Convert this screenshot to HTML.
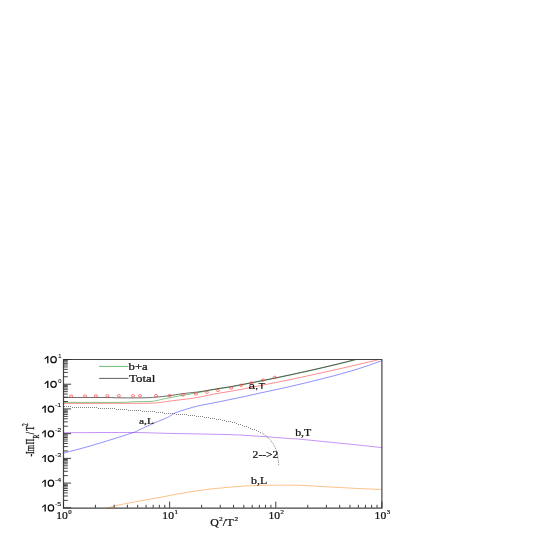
<!DOCTYPE html>
<html><head><meta charset="utf-8"><style>html,body{margin:0;padding:0;background:#fff}body{width:545px;height:545px;position:relative;overflow:hidden;font-family:"Liberation Sans",sans-serif}</style></head><body><svg width="545" height="545" viewBox="0 0 545 545" style="position:absolute;left:0;top:0;will-change:transform">
<defs><clipPath id="cp"><rect x="63.50" y="359.00" width="318.40" height="149.30"/></clipPath>
<g id="ten"><path d="M0.05 -4.6L2.85 -7.1H4.05V0H2.7V-5.5L0.5 -3.7Z" fill="#111"/><ellipse cx="9.15" cy="-3.55" rx="2.72" ry="3.0" fill="none" stroke="#111" stroke-width="1.25"/></g>
</defs>
<g clip-path="url(#cp)" fill="none" stroke-width="0.62">
<path d="M63.50 432.70 C74.75 432.67 113.92 432.40 131.00 432.50 C148.08 432.60 155.17 433.07 166.00 433.30 C176.83 433.53 186.17 433.70 196.00 433.90 C205.83 434.10 216.83 434.27 225.00 434.50 C233.17 434.73 238.23 434.93 245.00 435.30 C251.77 435.67 258.72 436.20 265.60 436.70 C272.48 437.20 280.57 437.88 286.30 438.30 C292.03 438.72 293.38 438.62 300.00 439.20 C306.62 439.78 316.63 440.87 326.00 441.80 C335.37 442.73 346.88 443.83 356.20 444.80 C365.52 445.77 377.62 447.13 381.90 447.60" stroke="#a050f0"/>
<path d="M105.80 508.60 C107.22 508.17 110.68 506.88 114.30 506.00 C117.92 505.12 122.55 504.27 127.50 503.30 C132.45 502.33 138.58 501.18 144.00 500.20 C149.42 499.22 154.58 498.40 160.00 497.40 C165.42 496.40 171.00 495.20 176.50 494.20 C182.00 493.20 187.50 492.23 193.00 491.40 C198.50 490.57 205.00 489.75 209.50 489.20 C214.00 488.65 215.32 488.55 220.00 488.10 C224.68 487.65 231.48 486.95 237.60 486.50 C243.72 486.05 249.85 485.62 256.70 485.40 C263.55 485.18 271.48 485.22 278.70 485.20 C285.92 485.18 293.45 485.12 300.00 485.30 C306.55 485.48 312.00 485.97 318.00 486.30 C324.00 486.63 330.00 486.97 336.00 487.30 C342.00 487.63 348.00 488.00 354.00 488.30 C360.00 488.60 367.35 488.90 372.00 489.10 C376.65 489.30 380.25 489.43 381.90 489.50" stroke="#ff9a3c"/>
<path d="M64 406.5h1M66 406.5h1M68 406.5h1M70 406.5h1M72 407.5h1M74 407.5h1M76 407.5h1M78 407.5h1M80 407.5h1M82 407.5h1M84 407.5h1M86 407.5h1M88 407.5h1M90 407.5h1M92 407.5h1M94 407.5h1M96 407.5h1M98 408.5h1M100 408.5h1M102 408.5h1M104 408.5h1M106 408.5h1M108 408.5h1M110 408.5h1M112 408.5h1M114 408.5h1M116 409.5h1M118 409.5h1M120 409.5h1M122 409.5h1M124 409.5h1M126 409.5h1M128 410.5h1M130 410.5h1M132 410.5h1M134 410.5h1M136 410.5h1M138 410.5h1M140 410.5h1M142 411.5h1M144 411.5h1M146 411.5h1M148 411.5h1M150 411.5h1M152 411.5h1M154 411.5h1M156 412.5h1M158 412.5h1M160 412.5h1M162 412.5h1M164 413.5h1M166 413.5h1M168 413.5h1M170 413.5h1M172 413.5h1M174 413.5h1M176 414.5h1M178 414.5h1M180 414.5h1M182 414.5h1M184 414.5h1M186 414.5h1M188 415.5h1M190 415.5h1M192 415.5h1M194 415.5h1M196 416.5h1M198 416.5h1M200 416.5h1M202 416.5h1M204 417.5h1M206 417.5h1M208 417.5h1M210 418.5h1M212 418.5h1M214 418.5h1M216 419.5h1M218 419.5h1M220 419.5h1M222 420.5h1M224 420.5h1M226 421.5h1M228 421.5h1M230 421.5h1M232 422.5h1M234 422.5h1M236 423.5h1M238 424.5h1M240 424.5h1M242 425.5h1M244 426.5h1M246 426.5h1M248 427.5h1M250 428.5h1M252 429.5h1M254 429.5h1M256 430.5h1M258 431.5h1M260 432.5h1" stroke="#4a4a4a" stroke-width="1" shape-rendering="crispEdges" opacity="0.68"/>
<path d="M262.00 432.90 C262.83 433.53 266.17 436.07 267.00 436.70" stroke="#383838" stroke-dasharray="1 1" stroke-width="0.65"/>
<path d="M267.00 436.70 C269.28 438.62 271.00 440.72 272.50 442.90 C274.00 445.08 275.08 447.28 276.00 449.80 C276.92 452.32 277.55 455.37 278.00 458.00 C278.45 460.63 278.58 464.33 278.70 465.60" stroke="#4a4a4a" stroke-dasharray="1.4 0.6" stroke-width="0.5"/>
<path d="M63.50 453.02 C67.97 451.84 79.03 449.24 90.30 445.95 C101.57 442.66 122.82 436.04 131.10 433.30 C139.38 430.55 136.13 431.20 140.00 429.49 C143.87 427.77 150.30 424.76 154.30 423.00 C158.30 421.24 161.62 419.95 164.00 418.94 C166.38 417.92 167.10 417.73 168.60 416.91 C170.10 416.09 171.53 414.82 173.00 414.00 C174.47 413.18 175.57 412.68 177.40 412.00 C179.23 411.32 181.80 410.58 184.00 409.90 C186.20 409.22 187.93 408.63 190.60 407.90 C193.27 407.17 195.93 406.38 200.00 405.50 C204.07 404.62 210.00 403.59 215.00 402.60 C220.00 401.61 225.00 400.57 230.00 399.55 C235.00 398.52 240.00 397.52 245.00 396.44 C250.00 395.35 255.00 394.14 260.00 393.04 C265.00 391.94 270.00 390.92 275.00 389.85 C280.00 388.77 285.00 387.73 290.00 386.59 C295.00 385.45 300.00 384.20 305.00 383.00 C310.00 381.79 315.00 380.59 320.00 379.34 C325.00 378.09 330.00 376.84 335.00 375.50 C340.00 374.17 345.00 372.80 350.00 371.32 C355.00 369.84 359.68 368.38 365.00 366.61 C370.32 364.83 379.08 361.67 381.90 360.68" stroke="#4a4aff"/>
<path d="M63.50 403.40 C69.58 403.40 87.25 403.42 100.00 403.40 C112.75 403.38 130.58 403.38 140.00 403.30 C149.42 403.22 151.92 403.22 156.50 402.90 C161.08 402.58 163.83 401.85 167.50 401.36 C171.17 400.87 174.83 400.43 178.50 399.99 C182.17 399.54 185.92 399.20 189.50 398.70 C193.08 398.20 195.75 397.80 200.00 397.00 C204.25 396.20 210.00 394.84 215.00 393.90 C220.00 392.97 225.00 392.27 230.00 391.39 C235.00 390.52 240.00 389.63 245.00 388.67 C250.00 387.71 255.00 386.66 260.00 385.66 C265.00 384.65 270.00 383.66 275.00 382.65 C280.00 381.65 285.00 380.65 290.00 379.61 C295.00 378.57 300.00 377.50 305.00 376.43 C310.00 375.36 315.00 374.30 320.00 373.20 C325.00 372.10 330.00 370.98 335.00 369.85 C340.00 368.72 345.00 367.56 350.00 366.40 C355.00 365.24 359.68 364.15 365.00 362.89 C370.32 361.62 379.08 359.49 381.90 358.82" stroke="#ff4848"/>
<path d="M63.50 402.40 C69.58 402.40 89.92 402.42 100.00 402.40 C110.08 402.38 118.67 402.40 124.00 402.30 C129.33 402.20 129.33 401.92 132.00 401.80 C134.67 401.68 136.83 401.67 140.00 401.60 C143.17 401.53 148.17 401.58 151.00 401.40 C153.83 401.22 155.17 400.85 157.00 400.50 C158.83 400.15 159.33 399.87 162.00 399.30 C164.67 398.73 169.33 397.80 173.00 397.10 C176.67 396.40 180.88 395.65 184.00 395.10 C187.12 394.55 189.03 394.28 191.70 393.80 C194.37 393.32 196.12 392.99 200.00 392.25 C203.88 391.51 210.00 390.23 215.00 389.37 C220.00 388.51 225.00 387.93 230.00 387.08 C235.00 386.23 240.00 385.21 245.00 384.25 C250.00 383.29 255.00 382.31 260.00 381.32 C265.00 380.32 270.00 379.32 275.00 378.29 C280.00 377.26 285.00 376.22 290.00 375.14 C295.00 374.07 300.00 372.95 305.00 371.84 C310.00 370.72 315.00 369.62 320.00 368.47 C325.00 367.32 330.00 366.15 335.00 364.94 C340.00 363.74 345.83 362.28 350.00 361.21 C354.17 360.15 358.33 359.00 360.00 358.56" stroke="#3aa03a"/>
<path d="M63.50 397.50 C70.42 397.50 95.92 397.45 105.00 397.50 C114.08 397.55 113.00 397.73 118.00 397.80 C123.00 397.87 130.00 397.92 135.00 397.90 C140.00 397.88 144.42 397.83 148.00 397.70 C151.58 397.57 153.07 397.42 156.50 397.10 C159.93 396.78 164.38 396.35 168.60 395.80 C172.82 395.25 178.13 394.31 181.80 393.80 C185.47 393.29 187.57 393.13 190.60 392.77 C193.63 392.41 195.93 392.26 200.00 391.65 C204.07 391.04 210.00 389.93 215.00 389.12 C220.00 388.31 225.00 387.64 230.00 386.78 C235.00 385.92 240.00 384.91 245.00 383.95 C250.00 382.99 255.00 382.01 260.00 381.02 C265.00 380.02 270.00 379.02 275.00 377.99 C280.00 376.96 285.00 375.92 290.00 374.84 C295.00 373.77 300.00 372.65 305.00 371.54 C310.00 370.42 315.00 369.32 320.00 368.17 C325.00 367.02 330.00 365.85 335.00 364.64 C340.00 363.44 345.83 361.98 350.00 360.91 C354.17 359.85 358.33 358.70 360.00 358.26" stroke="#2a2a2a" stroke-width="0.7"/>
</g>
<g fill="none" stroke="#ff3838" stroke-width="0.65">
<ellipse cx="71.1" cy="396.1" rx="1.55" ry="1.2"/>
<ellipse cx="85.0" cy="396.1" rx="1.55" ry="1.2"/>
<ellipse cx="95.9" cy="395.9" rx="1.55" ry="1.2"/>
<ellipse cx="107.4" cy="395.8" rx="1.55" ry="1.2"/>
<ellipse cx="118.9" cy="395.7" rx="1.55" ry="1.2"/>
<ellipse cx="133.0" cy="395.7" rx="1.55" ry="1.2"/>
<ellipse cx="140.0" cy="395.7" rx="1.55" ry="1.2"/>
<ellipse cx="156.0" cy="395.7" rx="1.55" ry="1.2"/>
<ellipse cx="169.5" cy="395.6" rx="1.55" ry="1.2"/>
<ellipse cx="182.9" cy="394.9" rx="1.55" ry="1.2"/>
<ellipse cx="195.9" cy="393.9" rx="1.55" ry="1.2"/>
<ellipse cx="206.9" cy="392.2" rx="1.55" ry="1.2"/>
<ellipse cx="217.9" cy="390.4" rx="1.55" ry="1.2"/>
<ellipse cx="231.1" cy="388.0" rx="1.55" ry="1.2"/>
<ellipse cx="241.2" cy="385.3" rx="1.55" ry="1.2"/>
<ellipse cx="251.5" cy="382.9" rx="1.55" ry="1.2"/>
<ellipse cx="262.9" cy="380.1" rx="1.55" ry="1.2"/>
<ellipse cx="274.8" cy="377.4" rx="1.55" ry="1.2"/>
</g>
<g stroke-width="0.75" fill="none"><path d="M99.1 366.4H128.4" stroke="#3aa03a"/><path d="M99.1 378.4H128.4" stroke="#2a2a2a"/></g>
<path d="M62.90 359.50H382.50M381.90 359.50V508.65M62.90 508.05H382.50M63.50 359.50V508.65" fill="none" stroke="#444" stroke-width="1.2"/>
<path d="M63.50 507.80h7.6M63.50 500.36h4.3M63.50 496.01h4.3M63.50 492.92h4.3M63.50 490.52h4.3M63.50 488.57h4.3M63.50 486.91h4.3M63.50 485.48h4.3M63.50 484.21h4.3M63.50 483.08h7.6M63.50 475.64h4.3M63.50 471.29h4.3M63.50 468.20h4.3M63.50 465.81h4.3M63.50 463.85h4.3M63.50 462.20h4.3M63.50 460.76h4.3M63.50 459.50h4.3M63.50 458.37h7.6M63.50 450.93h4.3M63.50 446.57h4.3M63.50 443.49h4.3M63.50 441.09h4.3M63.50 439.13h4.3M63.50 437.48h4.3M63.50 436.05h4.3M63.50 434.78h4.3M63.50 433.65h7.6M63.50 426.21h4.3M63.50 421.86h4.3M63.50 418.77h4.3M63.50 416.37h4.3M63.50 414.42h4.3M63.50 412.76h4.3M63.50 411.33h4.3M63.50 410.06h4.3M63.50 408.93h7.6M63.50 401.49h4.3M63.50 397.14h4.3M63.50 394.05h4.3M63.50 391.66h4.3M63.50 389.70h4.3M63.50 388.05h4.3M63.50 386.61h4.3M63.50 385.35h4.3M63.50 384.22h7.6M63.50 376.78h4.3M63.50 372.42h4.3M63.50 369.34h4.3M63.50 366.94h4.3M63.50 364.98h4.3M63.50 363.33h4.3M63.50 361.90h4.3M63.50 360.63h4.3M63.50 359.50h7.6M63.50 507.80v-6.2M95.45 507.80v-3M114.14 507.80v-3M127.40 507.80v-3M137.68 507.80v-3M146.09 507.80v-3M153.19 507.80v-3M159.35 507.80v-3M164.78 507.80v-3M169.63 507.80v-6.2M201.58 507.80v-3M220.27 507.80v-3M233.53 507.80v-3M243.82 507.80v-3M252.22 507.80v-3M259.33 507.80v-3M265.48 507.80v-3M270.91 507.80v-3M275.77 507.80v-6.2M307.72 507.80v-3M326.41 507.80v-3M339.67 507.80v-3M349.95 507.80v-3M358.35 507.80v-3M365.46 507.80v-3M371.61 507.80v-3M377.04 507.80v-3M381.90 507.80v-6.2" stroke="#2a2a2a" stroke-width="0.9" fill="none"/>
<g font-family="Liberation Sans, sans-serif" fill="#111" stroke="#111" stroke-width="0.1">
<use href="#ten" x="41.8" y="511.50" stroke="none"/>
<text x="54.9" y="506.30" font-size="5.4" textLength="6.4" lengthAdjust="spacingAndGlyphs">-5</text>
<use href="#ten" x="41.8" y="486.78" stroke="none"/>
<text x="54.9" y="481.58" font-size="5.4" textLength="6.4" lengthAdjust="spacingAndGlyphs">-4</text>
<use href="#ten" x="41.8" y="462.07" stroke="none"/>
<text x="54.9" y="456.87" font-size="5.4" textLength="6.4" lengthAdjust="spacingAndGlyphs">-3</text>
<use href="#ten" x="41.8" y="437.35" stroke="none"/>
<text x="54.9" y="432.15" font-size="5.4" textLength="6.4" lengthAdjust="spacingAndGlyphs">-2</text>
<use href="#ten" x="41.8" y="412.63" stroke="none"/>
<text x="54.9" y="407.43" font-size="5.4" textLength="6.4" lengthAdjust="spacingAndGlyphs">-1</text>
<use href="#ten" x="44.4" y="387.92" stroke="none"/>
<text x="58.2" y="382.72" font-size="5.4" textLength="3.2" lengthAdjust="spacingAndGlyphs">0</text>
<use href="#ten" x="44.4" y="363.20" stroke="none"/>
<text x="58.2" y="358.00" font-size="5.4" textLength="3.2" lengthAdjust="spacingAndGlyphs">1</text>
</g>
<g font-family="Liberation Serif, serif" fill="#111" stroke="#111" stroke-width="0.22">
<text x="56.20" y="518.9" font-size="9.8" textLength="11.6" lengthAdjust="spacingAndGlyphs">10</text>
<text x="68.30" y="513.8" font-size="6.0" textLength="3.4" lengthAdjust="spacingAndGlyphs" stroke-width="0.2">0</text>
<text x="162.33" y="518.9" font-size="9.8" textLength="11.6" lengthAdjust="spacingAndGlyphs">10</text>
<text x="174.43" y="513.8" font-size="6.0" textLength="3.4" lengthAdjust="spacingAndGlyphs" stroke-width="0.2">1</text>
<text x="268.47" y="518.9" font-size="9.8" textLength="11.6" lengthAdjust="spacingAndGlyphs">10</text>
<text x="280.57" y="513.8" font-size="6.0" textLength="3.4" lengthAdjust="spacingAndGlyphs" stroke-width="0.2">2</text>
<text x="374.60" y="518.9" font-size="9.8" textLength="11.6" lengthAdjust="spacingAndGlyphs">10</text>
<text x="386.70" y="513.8" font-size="6.0" textLength="3.4" lengthAdjust="spacingAndGlyphs" stroke-width="0.2">3</text>
<text x="128.6" y="369.8" font-size="10.1" textLength="19.1" lengthAdjust="spacingAndGlyphs">b+a</text>
<text x="129" y="381.8" font-size="10.1" textLength="26.4" lengthAdjust="spacingAndGlyphs">Total</text>
<text x="295.2" y="435.7" font-size="9.4" textLength="16.1" lengthAdjust="spacingAndGlyphs">b,T</text>
<text x="251.1" y="483.8" font-size="9.4" textLength="16.1" lengthAdjust="spacingAndGlyphs">b,L</text>
<text x="252.6" y="458" font-size="9.3" textLength="25.8" lengthAdjust="spacingAndGlyphs">2--&gt;2</text>
<text x="139.1" y="423.8" font-size="9.2" textLength="14.8" lengthAdjust="spacingAndGlyphs">a,L</text>
<text x="210.3" y="526.2" font-size="10.3" textLength="8.6" lengthAdjust="spacingAndGlyphs">Q</text>
<text x="219.2" y="520.8" font-size="5.5" textLength="3.4" lengthAdjust="spacingAndGlyphs">2</text>
<text x="222.8" y="526.2" font-size="10.3" textLength="10.8" lengthAdjust="spacingAndGlyphs">/T</text>
<text x="234.4" y="520.8" font-size="5.5" textLength="3.6" lengthAdjust="spacingAndGlyphs">2</text>
<g transform="translate(33.9,456.6) rotate(-90) scale(1,1.48)" stroke-width="0.18">
<text x="0" y="0" font-size="8">-Im</text>
<text x="12.1" y="0" font-size="8">Π</text>
<text x="18.2" y="3.3" font-size="5.6">R</text>
<text x="22.4" y="0" font-size="8">/</text>
<text x="25.8" y="0" font-size="8">T</text>
<text x="30.6" y="-4.1" font-size="5.4">2</text>
</g>
</g>
<text x="248.6" y="389.4" font-family="Liberation Sans, sans-serif" font-size="8.8" fill="#111" stroke="#111" stroke-width="0.12" textLength="16.9" lengthAdjust="spacingAndGlyphs">a,T</text>
</svg></body></html>
